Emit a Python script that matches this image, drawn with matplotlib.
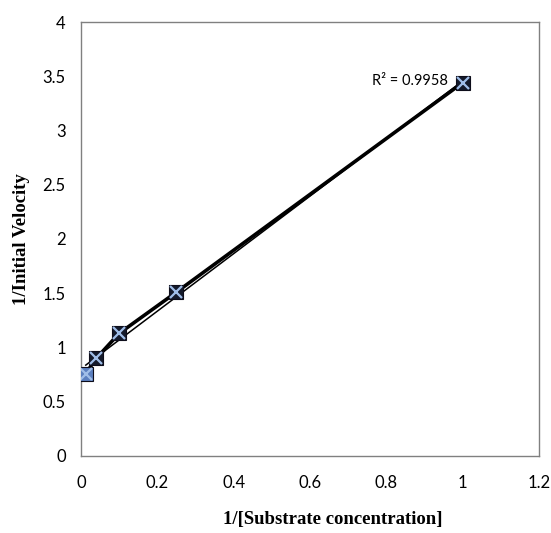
import numpy as np
import matplotlib
matplotlib.use("Agg")
import matplotlib.pyplot as plt

inv_substrate = [0.0125, 0.04, 0.1, 0.25, 1.0]
inv_velocity = [0.76, 0.90, 1.13, 1.51, 3.44]
x_ticks = [0, 0.2, 0.4, 0.6, 0.8, 1, 1.2]
y_ticks = [0, 0.5, 1, 1.5, 2, 2.5, 3, 3.5, 4]
r2_label = "R² = 0.9958"

fig = plt.figure(figsize=(5.51, 5.33), dpi=100)
ax = fig.add_axes([0.147, 0.1445, 0.831, 0.8142])

xs = np.array(inv_substrate)
ys = np.array(inv_velocity)

# thick connecting line
ax.plot(xs, ys, color="black", lw=2.6, zorder=2, solid_capstyle="round")
# linear trendline
m, b = np.polyfit(xs, ys, 1)
xt = np.array([xs.min(), xs.max()])
ax.plot(xt, m * xt + b, color="black", lw=1.1, zorder=2)

faces = ["#5b7fbf"] + ["#141a2b"] * (len(xs) - 1)
for xv, yv, fc in zip(xs, ys, faces):
    ax.plot(xv, yv, marker="s", ms=10.5, mfc=fc, mec="#0d0d1a", mew=0.8, zorder=3)
    ax.plot(xv, yv, marker="x", ms=9, mec="#9fbde8", mew=1.6, zorder=4)

ax.text(0.962, 3.46, r2_label, ha="right", va="center", fontsize=10.5,
        family="Lato", color="black")

ax.set_xlim(0, 1.2)
ax.set_ylim(0, 4)
ax.set_xticks(x_ticks)
ax.set_xticklabels([f"{t:g}" for t in x_ticks])
ax.set_yticks(y_ticks)
ax.set_yticklabels([f"{t:g}" for t in y_ticks])
ax.tick_params(length=0, labelsize=12)
ax.tick_params(axis="x", pad=14)
ax.tick_params(axis="y", pad=11)
for lab in ax.get_xticklabels() + ax.get_yticklabels():
    lab.set_family("Lato")
for s in ax.spines.values():
    s.set_color("#808080")
    s.set_linewidth(1.0)

ax.set_xlabel("1/[Substrate concentration]", family="Liberation Serif",
              fontweight="bold", fontsize=13.5, labelpad=14)
ax.xaxis.label.set_x(0.55)
ax.set_ylabel("1/Initial Velocity", family="Liberation Serif",
              fontweight="bold", fontsize=13.5, labelpad=9)

fig.savefig("out.png", dpi=100)
